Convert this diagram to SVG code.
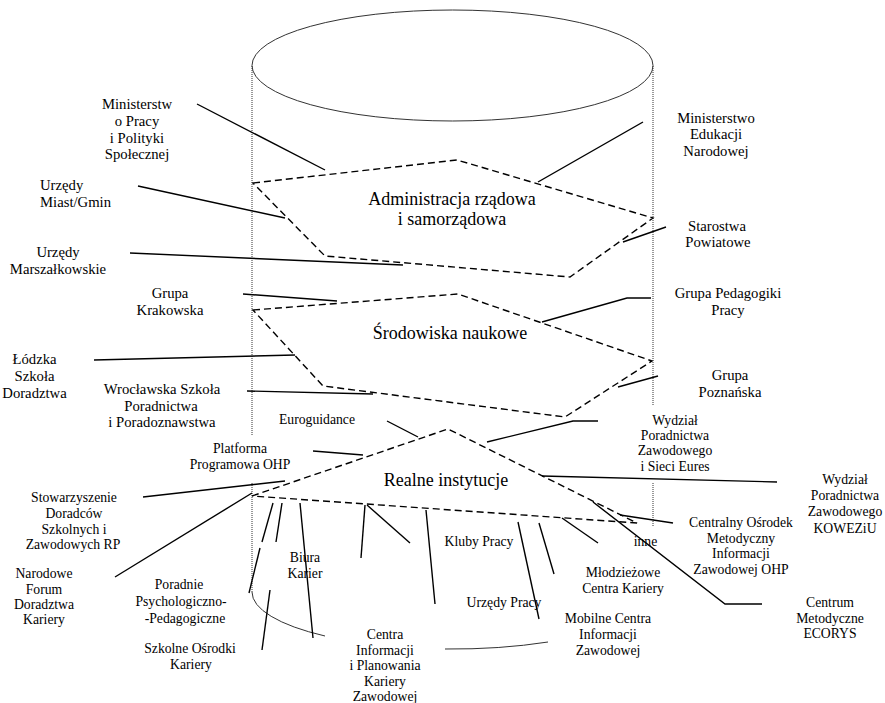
<svg xmlns="http://www.w3.org/2000/svg" width="885" height="703" viewBox="0 0 885 703">
<style>
text{font-family:"Liberation Serif","Times New Roman",serif;fill:#000;text-anchor:middle}
.s{font-size:14.7px}
.m{font-size:13.7px}
.b{font-size:18px}
.st{text-anchor:start}
.cyl{fill:none;stroke:#333;stroke-width:1}
.cv{fill:none;stroke:#333;stroke-width:1;stroke-dasharray:1 1}
.dash{fill:none;stroke:#000;stroke-width:1.4;stroke-dasharray:7 4}
.ln{fill:none;stroke:#000;stroke-width:1.4}
</style>
<rect width="885" height="703" fill="#fff"/>
<g id="cylinder">
<ellipse class="cyl" cx="452.5" cy="65.5" rx="200.5" ry="55.5"/>
<line class="cv" x1="252" y1="66" x2="252" y2="435"/>
<line class="cv" x1="252" y1="483" x2="252" y2="592"/>
<line class="cv" x1="653" y1="66" x2="653" y2="405"/>
<line class="cv" x1="653" y1="483" x2="653" y2="527"/>
<path class="cyl" d="M252 592 A200.5 57 0 0 0 325 636"/>
<path class="cyl" d="M445 649 A200.5 57 0 0 0 548 642"/>
</g>
<g id="administracja">
<polygon class="dash" points="253,183 457,160 653,218 570,277 325,256"/>
<text class="b" x="452" y="205">Administracja rządowa</text>
<text class="b" x="452" y="225">i samorządowa</text>
</g>
<g id="srodowiska">
<polygon class="dash" points="253,310 458,294 652,361 565,417 323,386"/>
<text class="b" x="450" y="339">Środowiska naukowe</text>
</g>
<g id="realne">
<polygon class="dash" points="252,496 448,429 637,523"/>
<text class="b" x="446" y="486">Realne instytucje</text>
</g>
<g id="connectors">
<polyline class="ln" points="197,104 325,170"/>
<polyline class="ln" points="138,186 285,218"/>
<polyline class="ln" points="130,253 403,265"/>
<polyline class="ln" points="243,294 337,301"/>
<polyline class="ln" points="94,360 295,355"/>
<polyline class="ln" points="247,391 373,394"/>
<polyline class="ln" points="643,122 538,182"/>
<polyline class="ln" points="666,227 623,242"/>
<polyline class="ln" points="651,298 627,298 542,322"/>
<polyline class="ln" points="658,376 618,387"/>
<polyline class="ln" points="387,421 418,437"/>
<polyline class="ln" points="313,451 363,455"/>
<polyline class="ln" points="143,497 285,481"/>
<polyline class="ln" points="115,577 252,493"/>
<polyline class="ln" points="487,442 573,421 598,421"/>
<polyline class="ln" points="542,476 777,482"/>
<polyline class="ln" points="673,523 620,515"/>
<polyline class="ln" points="593,502 725,604 762,604"/>
<polyline class="ln" points="562,518 598,543"/>
<polyline class="ln" points="539,523 554,574"/>
<polyline class="ln" points="518,522 539,619"/>
<polyline class="ln" points="426,510 435,604"/>
<polyline class="ln" points="367,505 410,543"/>
<polyline class="ln" points="365,505 361,558"/>
<polyline class="ln" points="300,503 313,638"/>
<polyline class="ln" points="282,503 276,542"/>
<polyline class="ln" points="273,503 262,542"/>
<polyline class="ln" points="260,548 249,593"/>
<polyline class="ln" points="270,590 262,650"/>
</g>
<g id="n-ministerstwo-pracy" class="s">
<text x="137" y="109">Ministerstw</text>
<text x="137" y="126">o Pracy</text>
<text x="137" y="143">i Polityki</text>
<text x="137" y="159">Społecznej</text>
</g>
<g id="n-urzedy-miast" class="s">
<text class="st" x="40" y="190">Urzędy</text>
<text class="st" x="40" y="207">Miast/Gmin</text>
</g>
<g id="n-urzedy-marszalkowskie" class="s">
<text x="58" y="257">Urzędy</text>
<text x="58" y="274">Marszałkowskie</text>
</g>
<g id="n-grupa-krakowska" class="s">
<text x="170" y="298">Grupa</text>
<text x="170" y="315">Krakowska</text>
</g>
<g id="n-lodzka" class="s">
<text x="34.5" y="364">Łódzka</text>
<text x="34.5" y="381">Szkoła</text>
<text x="34.5" y="398">Doradztwa</text>
</g>
<g id="n-wroclawska" class="s">
<text x="162" y="394">Wrocławska Szkoła</text>
<text x="161" y="411">Poradnictwa</text>
<text x="162" y="427">i Poradoznawstwa</text>
</g>
<g id="n-men" class="s">
<text x="716" y="123">Ministerstwo</text>
<text x="716" y="139">Edukacji</text>
<text x="716" y="156">Narodowej</text>
</g>
<g id="n-starostwa" class="s">
<text x="717" y="231">Starostwa</text>
<text x="718" y="247">Powiatowe</text>
</g>
<g id="n-grupa-pedagogiki" class="s">
<text x="728" y="298">Grupa Pedagogiki</text>
<text x="728" y="315">Pracy</text>
</g>
<g id="n-grupa-poznanska" class="s">
<text x="730" y="380">Grupa</text>
<text x="730" y="397">Poznańska</text>
</g>
<g id="n-euroguidance" class="m">
<text x="317" y="424">Euroguidance</text>
</g>
<g id="n-platforma" class="m">
<text x="240" y="453">Platforma</text>
<text x="240" y="469">Programowa OHP</text>
</g>
<g id="n-stowarzyszenie" class="m">
<text x="74" y="502">Stowarzyszenie</text>
<text x="74" y="518">Doradców</text>
<text x="74" y="534">Szkolnych i</text>
<text x="73" y="549">Zawodowych RP</text>
</g>
<g id="n-narodowe-forum" class="m">
<text x="44" y="578">Narodowe</text>
<text x="44" y="594">Forum</text>
<text x="44" y="609">Doradztwa</text>
<text x="44" y="624">Kariery</text>
</g>
<g id="n-poradnie" class="m">
<text x="179" y="589">Poradnie</text>
<text x="181" y="606">Psychologiczno-</text>
<text x="185" y="623">-Pedagogiczne</text>
</g>
<g id="n-szkolne" class="m">
<text x="190" y="653">Szkolne Ośrodki</text>
<text x="191" y="669">Kariery</text>
</g>
<g id="n-biura" class="m">
<text x="305" y="562">Biura</text>
<text x="305" y="578">Karier</text>
</g>
<g id="n-centra-informacji" class="m">
<text x="385" y="639">Centra</text>
<text x="385" y="655">Informacji</text>
<text x="385" y="670">i Planowania</text>
<text x="385" y="686">Kariery</text>
<text x="385" y="701">Zawodowej</text>
</g>
<g id="n-kluby" class="m">
<text x="479" y="546">Kluby Pracy</text>
</g>
<g id="n-urzedy-pracy" class="m">
<text x="504" y="607">Urzędy Pracy</text>
</g>
<g id="n-mlodziezowe" class="m">
<text x="623" y="577">Młodzieżowe</text>
<text x="623" y="593">Centra Kariery</text>
</g>
<g id="n-mobilne" class="m">
<text x="608" y="623">Mobilne Centra</text>
<text x="608" y="639">Informacji</text>
<text x="608" y="655">Zawodowej</text>
</g>
<g id="n-inne" class="m">
<text x="645.5" y="546">inne</text>
</g>
<g id="n-wydzial-eures" class="m">
<text x="675" y="425">Wydział</text>
<text x="675" y="440">Poradnictwa</text>
<text x="675" y="455">Zawodowego</text>
<text x="675" y="471">i Sieci Eures</text>
</g>
<g id="n-wydzial-koweziu" class="m">
<text x="845" y="484">Wydział</text>
<text x="845" y="500">Poradnictwa</text>
<text x="845" y="516">Zawodowego</text>
<text x="845" y="533">KOWEZiU</text>
</g>
<g id="n-centralny" class="m">
<text x="741" y="527">Centralny Ośrodek</text>
<text x="741" y="543">Metodyczny</text>
<text x="741" y="558">Informacji</text>
<text x="741" y="574">Zawodowej OHP</text>
</g>
<g id="n-centrum-ecorys" class="m">
<text x="830" y="607">Centrum</text>
<text x="830" y="623">Metodyczne</text>
<text x="830" y="638">ECORYS</text>
</g>
</svg>
